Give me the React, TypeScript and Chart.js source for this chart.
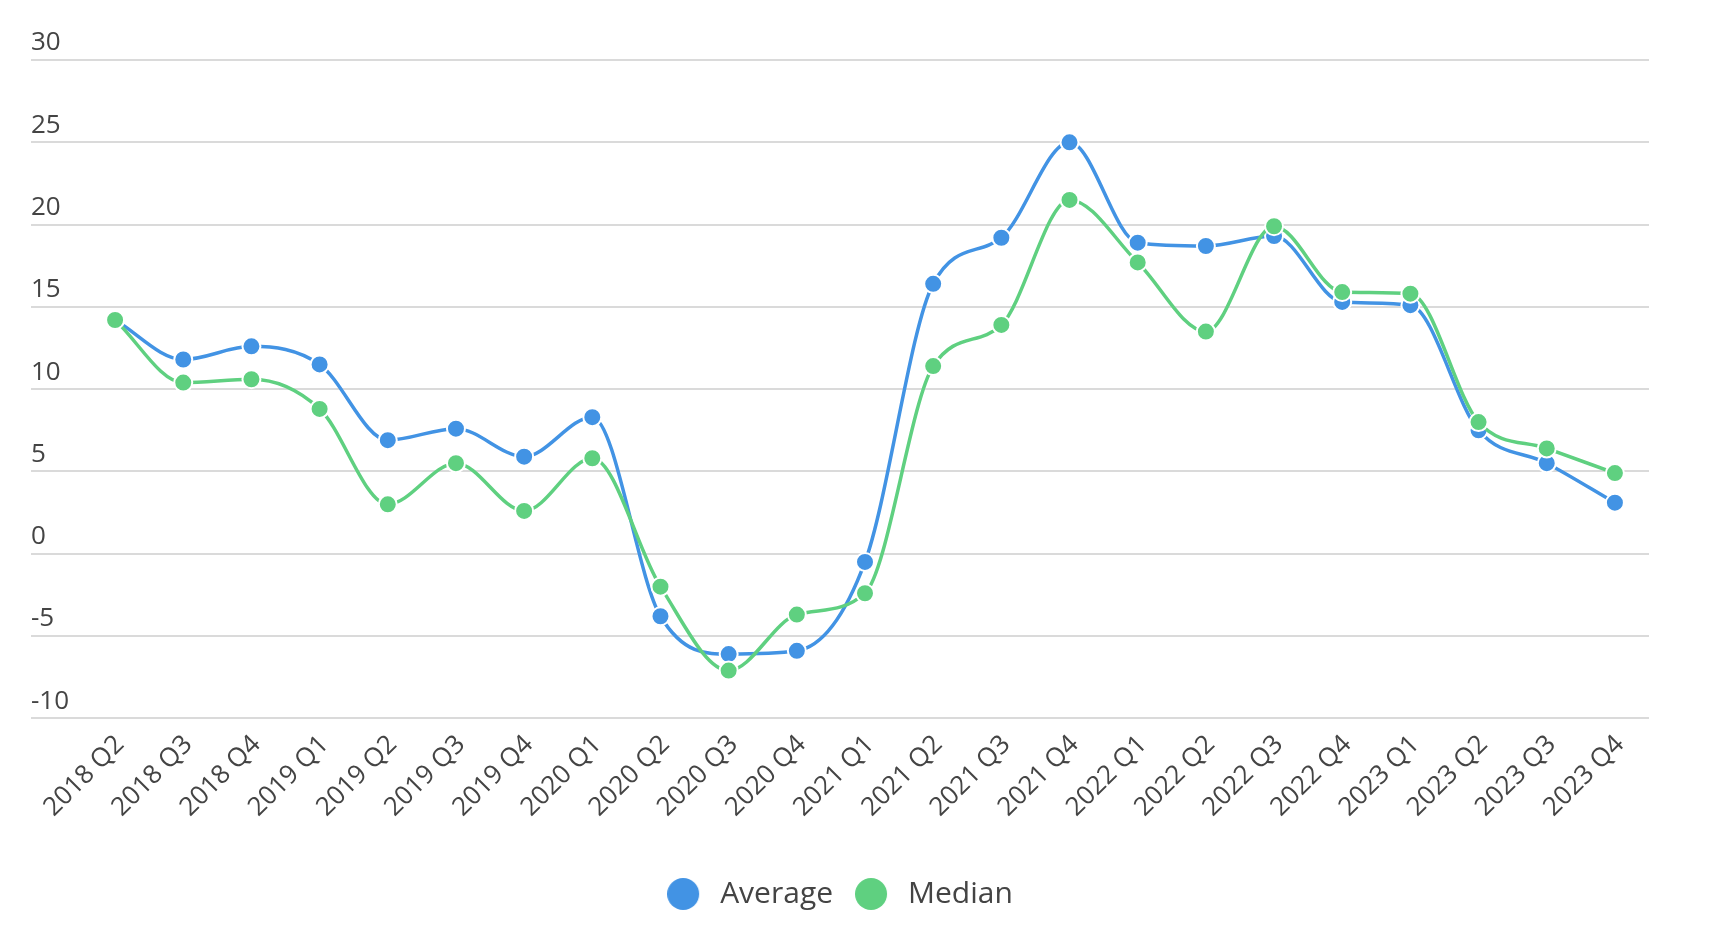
import { useEffect, useRef } from 'react'
import { Chart, registerables } from 'chart.js'

Chart.register(...registerables)

const quarters = [
  '2018 Q2', '2018 Q3', '2018 Q4',
  '2019 Q1', '2019 Q2', '2019 Q3', '2019 Q4',
  '2020 Q1', '2020 Q2', '2020 Q3', '2020 Q4',
  '2021 Q1', '2021 Q2', '2021 Q3', '2021 Q4',
  '2022 Q1', '2022 Q2', '2022 Q3', '2022 Q4',
  '2023 Q1', '2023 Q2', '2023 Q3', '2023 Q4',
]

const average = [
  14.2, 11.8, 12.6,
  11.5, 6.9, 7.6, 5.9,
  8.3, -3.8, -6.1, -5.9,
  -0.5, 16.4, 19.2, 25.0,
  18.9, 18.7, 19.3, 15.3,
  15.1, 7.5, 5.5, 3.1,
]

const median = [
  14.2, 10.4, 10.6,
  8.8, 3.0, 5.5, 2.6,
  5.8, -2.0, -7.1, -3.7,
  -2.4, 11.4, 13.9, 21.5,
  17.7, 13.5, 19.9, 15.9,
  15.8, 8.0, 6.4, 4.9,
]

const yMin = -10
const yMax = 30
const yStep = 5

const BLUE = '#4293e4'
const GREEN = '#5fd080'
const TEXT = '#444444'
const GRID = '#dadada'

// legend dot: circle on the left of a wider canvas so the gap to the text matches
function makeDot(color: string) {
  const c = document.createElement('canvas')
  c.width = 38
  c.height = 32
  const ctx = c.getContext('2d')!
  ctx.fillStyle = color
  ctx.beginPath()
  ctx.arc(16, 16, 16, 0, Math.PI * 2)
  ctx.fill()
  return c
}

export default function App() {
  const ref = useRef<HTMLCanvasElement>(null)

  useEffect(() => {
    if (!ref.current) return
    Chart.defaults.font.family = '"Open Sans", sans-serif'
    const dots = [makeDot(BLUE), makeDot(GREEN)]

    const line = (label: string, data: number[], color: string, order: number) => ({
      label,
      data,
      order,
      borderColor: color,
      backgroundColor: color,
      borderWidth: 3.5,
      cubicInterpolationMode: 'monotone' as const,
      pointRadius: 9,
      pointHoverRadius: 9,
      pointBorderColor: '#ffffff',
      pointBorderWidth: 2,
    })

    const chart = new Chart(ref.current, {
      type: 'line',
      data: {
        labels: quarters,
        // median is drawn on top of average
        datasets: [line('Average', average, BLUE, 1), line('Median', median, GREEN, 0)],
      },
      options: {
        animation: false,
        responsive: true,
        maintainAspectRatio: false,
        layout: { padding: { left: 23, right: 57, top: 52, bottom: 15 } },
        plugins: {
          tooltip: { enabled: false },
          legend: {
            position: 'bottom',
            labels: {
              usePointStyle: true,
              pointStyleWidth: 38,
              boxHeight: 30,
              padding: 22,
              color: TEXT,
              font: { size: 30 },
              sort: (a, b) => (a.datasetIndex ?? 0) - (b.datasetIndex ?? 0),
              generateLabels: (c) =>
                Chart.defaults.plugins.legend.labels.generateLabels(c).map((l) => ({
                  ...l,
                  pointStyle: dots[l.datasetIndex ?? 0] as any,
                })),
            },
          },
        },
        scales: {
          x: {
            offset: true,
            grid: { display: false },
            border: { display: false },
            afterFit: (scale) => { scale.height += 31 },
            ticks: {
              autoSkip: false,
              maxRotation: 45,
              minRotation: 45,
              padding: 3,
              labelOffset: 5,
              color: TEXT,
              font: { size: 26 },
            },
          },
          y: {
            min: yMin,
            max: yMax,
            border: { display: false },
            grid: { color: GRID, lineWidth: 2, tickLength: 50 },
            afterFit: (scale) => { scale.width = 50 },
            ticks: {
              stepSize: yStep,
              crossAlign: 'far',
              labelOffset: -17,
              color: TEXT,
              font: { size: 26 },
            },
          },
        },
      },
    })
    return () => chart.destroy()
  }, [])

  return (
    <div style={{ position: 'relative', width: 1698, height: 926 }}>
      <canvas ref={ref} />
    </div>
  )
}
